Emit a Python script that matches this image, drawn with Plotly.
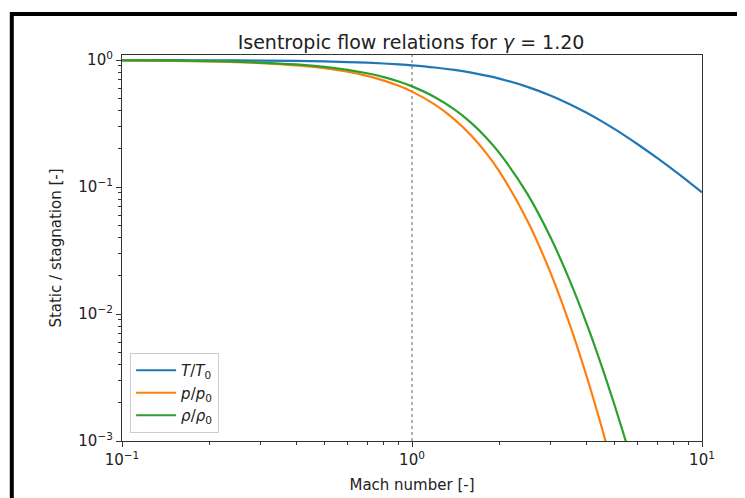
import plotly.graph_objects as go

# Mach numbers and ratios (gamma = 1.20)
mach = [0.1, 0.15, 0.2, 0.3, 0.4, 0.5, 0.6, 0.7, 0.8, 0.9, 1.0, 1.2, 1.4, 1.6, 1.8,
        2.0, 2.5, 3.0, 3.5, 4.0, 4.5, 5.0, 5.5, 6.0, 7.0, 8.0, 9.0, 10.0]
t_ratio = [0.99900, 0.99776, 0.99602, 0.99108, 0.98425, 0.97561, 0.96525, 0.95329,
           0.93985, 0.92507, 0.90909, 0.87413, 0.83612, 0.79618, 0.75529, 0.71429,
           0.61538, 0.52632, 0.44944, 0.38462, 0.33058, 0.28571, 0.24845, 0.21739,
           0.16949, 0.13514, 0.10989, 0.09091]
p_ratio = [0.99401, 0.98661, 0.97633, 0.94766, 0.90915, 0.86229, 0.80880, 0.75049,
           0.68921, 0.62670, 0.56447, 0.44610, 0.34167, 0.25470, 0.18562, 0.13281,
           0.054319, 0.021260, 0.0082404, 0.0032373, 0.0013052, 0.00054393,
           0.00023517, 0.00010557, 2.37e-5, 6.1e-6, 1.76e-6, 5.65e-7]
rho_ratio = [0.99501, 0.98883, 0.98024, 0.95619, 0.92370, 0.88385, 0.83792, 0.78725,
             0.73331, 0.67746, 0.62092, 0.51033, 0.40865, 0.31992, 0.24576, 0.18593,
             0.088269, 0.040394, 0.018339, 0.0084170, 0.0039483, 0.0019036,
             0.00094628, 0.00048594, 1.40e-4, 4.5e-5, 1.6e-5, 6.2e-6]

series_names = ["<i>T</i>/<i>T</i><sub>0</sub>", "<i>p</i>/<i>p</i><sub>0</sub>",
                "<i>ρ</i>/<i>ρ</i><sub>0</sub>"]
colors = ["#1f77b4", "#ff7f0e", "#2ca02c"]

x_tickvals = [0.1, 1, 10]
x_ticktext = ["10<sup>−1</sup>", "10<sup>0</sup>", "10<sup>1</sup>"]
y_tickvals = [0.001, 0.01, 0.1, 1]
y_ticktext = ["10<sup>−3</sup>", "10<sup>−2</sup>", "10<sup>−1</sup>", "10<sup>0</sup>"]
x_minor = [0.2, 0.3, 0.4, 0.5, 0.6, 0.7, 0.8, 0.9, 2, 3, 4, 5, 6, 7, 8, 9]
y_minor = [m * d for d in (0.001, 0.01, 0.1) for m in range(2, 10)]

font = "DejaVu Sans, sans-serif"
txt = "#222222"

fig = go.Figure()
for name, ys, c in zip(series_names, [t_ratio, p_ratio, rho_ratio], colors):
    fig.add_trace(go.Scatter(x=mach, y=ys, mode="lines", name=name,
                             line=dict(color=c, width=2.2, shape="spline")))

fig.add_vline(x=1, line=dict(color="#999999", width=1.5, dash="dot"), layer="below")

axis_common = dict(showgrid=False, zeroline=False, showline=True, mirror=True,
                   linecolor="#333333", linewidth=1.2, ticks="outside", ticklen=5,
                   tickcolor="#333333", tickfont=dict(size=15, color=txt, family=font))

fig.update_xaxes(type="log", range=[-1, 1], tickmode="array", tickvals=x_tickvals,
                 ticktext=x_ticktext,
                 minor=dict(tickmode="array", tickvals=x_minor, ticks="outside",
                            ticklen=3, tickcolor="#333333"),
                 title=dict(text="Mach number [-]", font=dict(size=15, color=txt, family=font),
                            standoff=11),
                 **axis_common)
fig.update_yaxes(type="log", range=[-3, 0.04], tickmode="array", tickvals=y_tickvals,
                 ticktext=y_ticktext,
                 minor=dict(tickmode="array", tickvals=y_minor, ticks="outside",
                            ticklen=3, tickcolor="#333333"),
                 title=dict(text="Static / stagnation [-]", font=dict(size=15, color=txt, family=font),
                            standoff=13),
                 **axis_common)

# outer black frame of the screenshot
fig.add_shape(type="rect", xref="paper", yref="paper", x0=-0.19, x1=1.2, y0=-0.5, y1=1.106,
              line=dict(color="black", width=4), fillcolor="rgba(0,0,0,0)", layer="above")

fig.update_layout(
    width=745, height=498,
    margin=dict(l=114, r=51, t=47, b=65),
    paper_bgcolor="white", plot_bgcolor="white",
    font=dict(family=font, color=txt),
    title=dict(text="Isentropic flow relations for <i>γ</i> = 1.20", x=0.541, xanchor="center",
               y=0.932, yanchor="middle", font=dict(size=19, color=txt, family=font)),
    legend=dict(x=0.014, y=0.228, xanchor="left", yanchor="top", bgcolor="white",
                bordercolor="#cccccc", borderwidth=1, font=dict(size=15, family=font),
                itemwidth=40, tracegroupgap=0),
    showlegend=True,
)

fig.write_html("out.html")
